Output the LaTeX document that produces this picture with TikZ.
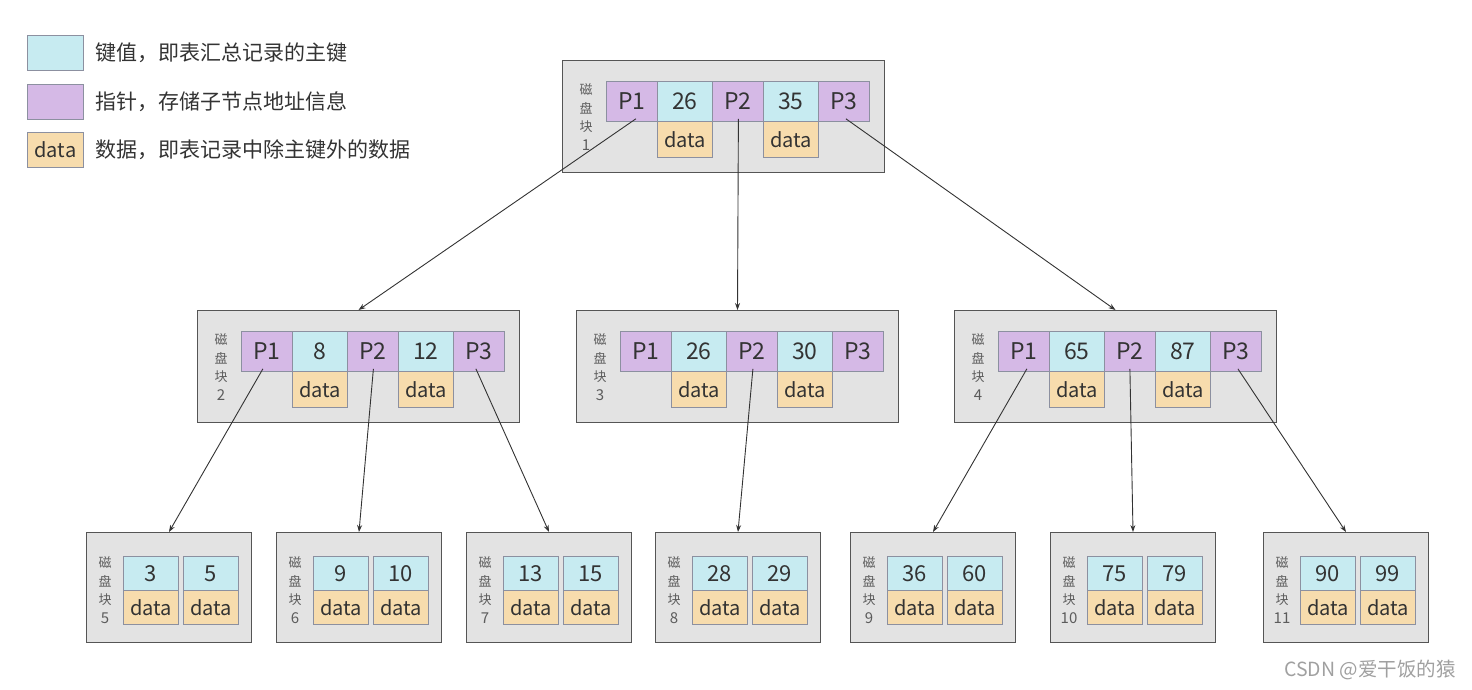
\documentclass[tikz,border=0pt]{standalone}
\usepackage{fontspec}
\setmainfont{Noto Sans CJK SC}
\usetikzlibrary{arrows.meta}
\definecolor{keyc}{HTML}{C7EBF1}
\definecolor{ptrc}{HTML}{D5B9E6}
\definecolor{datac}{HTML}{F7DCAD}
\definecolor{boxc}{HTML}{E3E3E3}
\definecolor{boxb}{HTML}{555555}
\definecolor{txt}{HTML}{333333}
\definecolor{cellb}{HTML}{8C90A0}
\definecolor{wm}{HTML}{A0A0A0}
\tikzset{
  cell/.style={draw=cellb, line width=0.8pt, inner sep=0pt, anchor=north west, text=txt},
  keycell/.style={cell, fill=keyc, minimum width=55pt, minimum height=40pt, font=\fontsize{23}{23}\selectfont},
  ptrcell/.style={cell, fill=ptrc, minimum width=51pt, minimum height=40pt, font=\fontsize{23}{23}\selectfont},
  datacell/.style={cell, fill=datac, minimum width=55pt, minimum height=36pt, font=\fontsize{20}{20}\selectfont},
  leafkey/.style={cell, fill=keyc, minimum width=55pt, minimum height=34pt, font=\fontsize{22}{22}\selectfont},
  leafdata/.style={cell, fill=datac, minimum width=55pt, minimum height=34pt, font=\fontsize{20}{20}\selectfont},
  blockbox/.style={draw=boxb, fill=boxc, line width=1pt, inner sep=0pt, anchor=north west},
  blocklabel/.style={text=txt!80, inner sep=0pt, align=center, font=\fontsize{13}{18.5}\selectfont},
  link/.style={draw=txt, line width=0.9pt, -{Stealth[length=7pt,width=5pt]}},
  legtext/.style={text=txt, inner sep=0pt, anchor=west, font=\fontsize{21}{21}\selectfont},
}
\newcommand\lnum[1]{{\fontsize{15}{18.5}\selectfont #1}}
\newcommand\mkinner[6]{%
  \node[blockbox, minimum width=322pt, minimum height=112pt] (#1-o) at (#2,#3) {};
  \node[ptrcell] (#1-p1) at (#2+44,#3+21) {P1};
  \node[keycell] (#1-k1) at (#2+95,#3+21) {#4};
  \node[ptrcell] (#1-p2) at (#2+150,#3+21) {P2};
  \node[keycell] (#1-k2) at (#2+201,#3+21) {#5};
  \node[ptrcell] (#1-p3) at (#2+256,#3+21) {P3};
  \node[datacell] (#1-d1) at (#2+95,#3+61) {data};
  \node[datacell] (#1-d2) at (#2+201,#3+61) {data};
  \node[blocklabel] (#1-l) at (#2+24,#3+57) {磁\\盘\\块\\\lnum{#6}};
}
\newcommand\mkleaf[5]{%
  \node[blockbox, minimum width=165pt, minimum height=110pt] (#1-o) at (#2,532) {};
  \node[leafkey] (#1-k1) at (#2+37,556) {#3};
  \node[leafkey] (#1-k2) at (#2+97,556) {#4};
  \node[leafdata] (#1-d1) at (#2+37,590) {data};
  \node[leafdata] (#1-d2) at (#2+97,590) {data};
  \node[blocklabel] (#1-l) at (#2+19,590) {磁\\盘\\块\\\lnum{#5}};
}
\begin{document}
\begin{tikzpicture}[x=1pt,y=-1pt]
\useasboundingbox (0,0) rectangle (1472,689);
% legend
\node[cell, fill=keyc, minimum width=56pt, minimum height=35pt] (lk) at (27,35) {};
\node[cell, fill=ptrc, minimum width=56pt, minimum height=35pt] (lp) at (27,84) {};
\node[cell, fill=datac, minimum width=56pt, minimum height=35pt, font=\fontsize{20}{20}\selectfont] (ld) at (27,132) {data};
\node[legtext] (lkt) at (95,53) {键值，即表汇总记录的主键};
\node[legtext] (lpt) at (95,102) {指针，存储子节点地址信息};
\node[legtext] (ldt) at (95,150) {数据，即表记录中除主键外的数据};
% blocks
\mkinner{b1}{562}{60}{26}{35}{1}
\mkinner{b2}{197}{310}{8}{12}{2}
\mkinner{b3}{576}{310}{26}{30}{3}
\mkinner{b4}{954}{310}{65}{87}{4}
\mkleaf{b5}{86}{3}{5}{5}
\mkleaf{b6}{276}{9}{10}{6}
\mkleaf{b7}{466}{13}{15}{7}
\mkleaf{b8}{655}{28}{29}{8}
\mkleaf{b9}{850}{36}{60}{9}
\mkleaf{b10}{1050}{75}{79}{10}
\mkleaf{b11}{1263}{90}{99}{11}
% links
\draw[link] ([xshift=4pt,yshift=3pt]b1-p1.south) -- (b2-o.north);
\draw[link] ([xshift=0.5pt,yshift=3pt]b1-p2.south) -- (b3-o.north);
\draw[link] ([xshift=2pt,yshift=3pt]b1-p3.south) -- (b4-o.north);
\draw[link] ([xshift=-4pt,yshift=3pt]b2-p1.south) -- (b5-o.north);
\draw[link] ([xshift=0.5pt,yshift=3pt]b2-p2.south) -- (b6-o.north);
\draw[link] ([xshift=-3pt,yshift=3pt]b2-p3.south) -- (b7-o.north);
\draw[link] ([xshift=1pt,yshift=3pt]b3-p2.south) -- (b8-o.north);
\draw[link] ([xshift=3pt,yshift=3pt]b4-p1.south) -- (b9-o.north);
\draw[link] ([xshift=0pt,yshift=3pt]b4-p2.south) -- (b10-o.north);
\draw[link] ([xshift=2pt,yshift=3pt]b4-p3.south) -- (b11-o.north);
% watermark
\node[text=wm, inner sep=0pt, font=\fontsize{19.5}{19.5}\selectfont] (wmk) at (1370,670) {CSDN @爱干饭的猿};
\end{tikzpicture}
\end{document}
